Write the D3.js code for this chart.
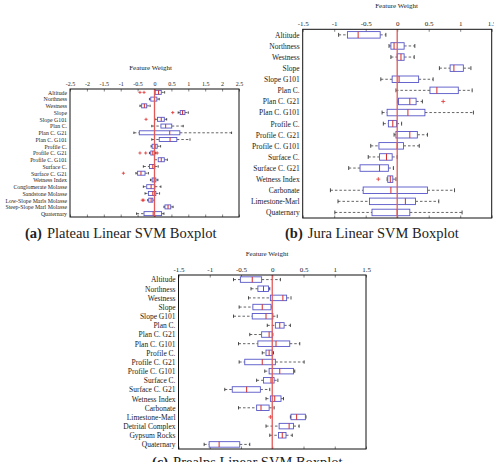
<!DOCTYPE html>
<html>
<head>
<meta charset="utf-8">
<script src="https://cdn.jsdelivr.net/npm/d3@7"></script>
<style>
  body { margin: 0; background: #fff; }
  svg { display: block; }
  svg text { font-family: "Liberation Serif", "DejaVu Serif", serif !important; fill: #222; }
</style>
</head>
<body>
<svg id="fig" width="494" height="462"></svg>
<script>
// ---- data ----
// stats per row: [lower whisker, q1, median, q3, upper whisker]
const ticksA = [-2.5, -2, -1.5, -1, -0.5, 0, 0.5, 1, 1.5, 2, 2.5];
const ticksBC = [-1.5, -1, -0.5, 0, 0.5, 1, 1.5];

const catsA = ["Altitude", "Northness", "Westness", "Slope", "Slope G101", "Plan C.", "Plan C. G21",
  "Plan C. G101", "Profile C.", "Profile C. G21", "Profile C. G101", "Surface C.", "Surface C. G21",
  "Wetness Index", "Conglomerate Molasse", "Sandstone Molasse", "Low-Slope Marls Molasse",
  "Steep-Slope Marl Molasse", "Quaternary"];
const statsA = [
  [0.0, 0.02, 0.12, 0.2, 0.3], [-0.15, -0.11, 0.0, 0.07, 0.14], [-0.43, -0.38, -0.3, -0.23, -0.13],
  [0.7, 0.76, 0.83, 0.9, 1.0], [0.01, 0.09, 0.2, 0.29, 0.36], [-0.08, 0.19, 0.33, 0.51, 0.85],
  [-0.61, -0.45, 0.45, 0.75, 2.28], [-0.08, 0.14, 0.46, 0.66, 1.05], [-0.1, -0.07, 0.02, 0.08, 0.18],
  [-0.15, -0.11, -0.05, 0.01, 0.04], [0.0, 0.11, 0.2, 0.29, 0.38], [-0.33, -0.15, -0.05, 0.01, 0.11],
  [-0.55, -0.5, -0.4, -0.28, -0.18], [-0.12, -0.07, -0.01, 0.04, 0.1], [-0.33, -0.23, -0.1, 0.01, 0.19],
  [-0.28, -0.18, -0.05, 0.04, 0.15], [-0.2, -0.17, -0.1, -0.05, 0.0], [0.28, 0.31, 0.4, 0.48, 0.55],
  [-0.53, -0.31, -0.04, 0.21, 0.28]
];
const outliersA = [["Altitude", -0.43], ["Altitude", -0.31], ["Slope", 0.54], ["Slope G101", -0.25],
  ["Profile C. G21", -0.43], ["Profile C. G21", -0.26], ["Profile C. G21", 0.08],
  ["Surface C. G21", -0.92], ["Low-Slope Marls Molasse", -0.36], ["Low-Slope Marls Molasse", -0.32]];

const catsB = ["Altitude", "Northness", "Westness", "Slope", "Slope G101", "Plan C.", "Plan C. G21",
  "Plan C. G101", "Profile C.", "Profile C. G21", "Profile C. G101", "Surface C.", "Surface C. G21",
  "Wetness Index", "Carbonate", "Limestone-Marl", "Quaternary"];
const statsB = [
  [-0.93, -0.79, -0.62, -0.27, -0.18], [-0.13, -0.1, -0.05, 0.11, 0.28], [-0.1, 0.0, 0.06, 0.11, 0.27],
  [0.67, 0.84, 0.9, 1.05, 1.17], [-0.26, -0.08, 0.03, 0.34, 0.57], [-0.02, 0.52, 0.63, 0.97, 1.19],
  [0.01, 0.02, 0.2, 0.3, 0.4], [-0.24, -0.16, 0.17, 0.44, 1.21], [-0.22, -0.14, -0.07, -0.01, 0.07],
  [-0.05, -0.02, 0.2, 0.32, 0.48], [-0.42, -0.29, 0.0, 0.1, 0.35], [-0.46, -0.28, -0.17, -0.08, 0.0],
  [-0.77, -0.59, -0.28, -0.14, -0.06], [-0.16, -0.15, -0.11, -0.07, -0.02], [-1.06, -0.54, -0.1, 0.48, 0.91],
  [-0.94, -0.44, 0.13, 0.29, 0.66], [-0.99, -0.4, 0.0, 0.2, 1.03]
];
const outliersB = [["Plan C. G21", 0.73], ["Wetness Index", -0.3]];

const catsC = ["Altitude", "Northness", "Westness", "Slope", "Slope G101", "Plan C.", "Plan C. G21",
  "Plan C. G101", "Profile C.", "Profile C. G21", "Profile C. G101", "Surface C.", "Surface C. G21",
  "Wetness Index", "Carbonate", "Limestone-Marl", "Detrital Complex", "Gypsum Rocks", "Quaternary"];
const statsC = [
  [-0.62, -0.51, -0.32, -0.17, 0.13], [-0.34, -0.23, -0.14, -0.06, -0.04], [-0.38, -0.03, 0.17, 0.23, 0.3],
  [-0.53, -0.31, -0.16, -0.02, -0.02], [-0.62, -0.32, -0.1, 0.01, 0.08], [-0.08, 0.05, 0.12, 0.19, 0.29],
  [-0.36, -0.17, -0.05, 0.0, 0.01], [-0.54, -0.23, 0.06, 0.28, 0.44], [-0.16, -0.1, -0.05, 0.0, 0.02],
  [-0.53, -0.44, -0.16, 0.05, 0.51], [-0.12, -0.05, 0.12, 0.34, 0.36], [-0.25, -0.14, -0.02, 0.03, 0.09],
  [-0.76, -0.64, -0.41, -0.19, -0.04], [-0.1, -0.03, 0.04, 0.14, 0.18], [-0.54, -0.25, -0.18, -0.05, 0.03],
  [0.29, 0.3, 0.39, 0.53, 0.54], [-0.1, 0.11, 0.27, 0.34, 0.43], [-0.04, 0.1, 0.16, 0.22, 0.32],
  [-1.09, -1.01, -0.85, -0.52, -0.36]
];
const outliersC = [["Limestone-Marl", -0.03]];

class BoxPlot {
  constructor(_config, _cats, _stats, _outliers, _ticks) {
    this.config = _config;
    this.cats = _cats;
    this.stats = _stats;
    this.outliers = _outliers;
    this.ticks = _ticks;
    this.initVis();
  }

  initVis() {
    let vis = this;
    const c = vis.config;

    vis.x = d3.scaleLinear()
        .domain([vis.ticks[0], vis.ticks[vis.ticks.length - 1]])
        .range([c.left, c.right]);

    vis.y = d3.scalePoint()
        .domain(vis.cats)
        .range([c.top, c.bottom])
        .padding(0.5);

    vis.g = d3.select('#fig').append('g');

    // Title above the axis
    vis.g.append('text')
        .attr('x', c.titleX)
        .attr('y', c.titleY)
        .attr('text-anchor', 'middle')
        .attr('dominant-baseline', 'middle')
        .style('font-size', '7px')
        .text('Feature Weight');

    // top axis with labels, ticks pointing in
    const xTop = d3.axisTop(vis.x).tickValues(vis.ticks).tickFormat(d => String(d))
        .tickSize(-2.5).tickPadding(3.5);
    const gTop = vis.g.append('g').attr('transform', `translate(0,${c.top})`).call(xTop);
    gTop.select('.domain').remove();
    gTop.selectAll('text').style('font-size', c.tickFont + 'px');
    gTop.selectAll('line').attr('stroke', '#333').attr('stroke-width', 0.6);

    const xBot = d3.axisBottom(vis.x).tickValues(vis.ticks).tickFormat('').tickSize(-2.5);
    const gBot = vis.g.append('g').attr('transform', `translate(0,${c.bottom})`).call(xBot);
    gBot.select('.domain').remove();
    gBot.selectAll('line').attr('stroke', '#333').attr('stroke-width', 0.6);

    const yAxis = d3.axisLeft(vis.y).tickSize(0).tickPadding(3);
    const gY = vis.g.append('g').attr('transform', `translate(${c.left},0)`).call(yAxis);
    gY.select('.domain').remove();
    gY.selectAll('text').style('font-size', c.catFont + 'px');

    vis.renderVis();

    // frame
    vis.g.append('rect')
        .attr('x', c.left).attr('y', c.top)
        .attr('width', c.right - c.left).attr('height', c.bottom - c.top)
        .attr('fill', 'none').attr('stroke', '#111').attr('stroke-width', 1);

    // caption
    const cap = vis.g.append('text')
        .attr('x', c.capX).attr('y', c.capY)
        .style('font-size', '14.5px');
    cap.append('tspan').attr('font-weight', 'bold').text(c.capTag);
    cap.append('tspan').attr('dx', 5).text(c.capText);
  }

  renderVis() {
    let vis = this;
    const c = vis.config;
    const h = c.boxH;

    const rows = vis.g.selectAll('.row')
        .data(vis.stats.map((s, i) => ({cat: vis.cats[i], s: s})))
        .join('g')
        .attr('class', 'row')
        .attr('transform', d => `translate(0,${vis.y(d.cat)})`);

    // whiskers
    rows.append('line')
        .attr('x1', d => vis.x(d.s[0])).attr('x2', d => vis.x(d.s[1]))
        .attr('stroke', '#222').attr('stroke-width', 0.7).attr('stroke-dasharray', '2.5,2');
    rows.append('line')
        .attr('x1', d => vis.x(d.s[3])).attr('x2', d => vis.x(d.s[4]))
        .attr('stroke', '#222').attr('stroke-width', 0.7).attr('stroke-dasharray', '2.5,2');
    // caps
    [0, 4].forEach(k => {
      rows.append('line')
          .attr('x1', d => vis.x(d.s[k])).attr('x2', d => vis.x(d.s[k]))
          .attr('y1', -h * 0.3).attr('y2', h * 0.3)
          .attr('stroke', '#222').attr('stroke-width', 0.8);
    });
    // box
    rows.append('rect')
        .attr('x', d => vis.x(d.s[1]))
        .attr('width', d => vis.x(d.s[3]) - vis.x(d.s[1]))
        .attr('y', -h / 2).attr('height', h)
        .attr('fill', '#fff').attr('stroke', '#5656c8').attr('stroke-width', 0.9);
    // median
    rows.append('line')
        .attr('x1', d => vis.x(d.s[2])).attr('x2', d => vis.x(d.s[2]))
        .attr('y1', -h / 2).attr('y2', h / 2)
        .attr('stroke', '#d92a2a').attr('stroke-width', 1);

    // zero line
    vis.g.append('line')
        .attr('x1', vis.x(0)).attr('x2', vis.x(0))
        .attr('y1', c.top).attr('y2', c.bottom)
        .attr('stroke', '#e25a58').attr('stroke-width', 1.3);

    // outliers (+)
    const pts = vis.g.selectAll('.out')
        .data(vis.outliers)
        .join('g')
        .attr('class', 'out')
        .attr('transform', d => `translate(${vis.x(d[1])},${vis.y(d[0])})`);
    const r = c.plus;
    pts.append('line').attr('x1', -r).attr('x2', r).attr('stroke', '#e03030').attr('stroke-width', 0.8);
    pts.append('line').attr('y1', -r).attr('y2', r).attr('stroke', '#e03030').attr('stroke-width', 0.8);
  }
}

new BoxPlot({left: 70, right: 239, top: 89, bottom: 217, boxH: 4, tickFont: 6, catFont: 5.8,
  titleX: 150.5, titleY: 68, plus: 1.6, capX: 25, capY: 237.5, capTag: '(a)', capText: 'Plateau Linear SVM Boxplot'},
  catsA, statsA, outliersA, ticksA);

new BoxPlot({left: 302.7, right: 491.7, top: 29.3, bottom: 218, boxH: 6.5, tickFont: 7, catFont: 7.5,
  titleX: 396.5, titleY: 6, plus: 2, capX: 285, capY: 237.5, capTag: '(b)', capText: 'Jura Linear SVM Boxplot'},
  catsB, statsB, outliersB, ticksBC);

new BoxPlot({left: 178.5, right: 366, top: 275, bottom: 449, boxH: 5.5, tickFont: 7, catFont: 7.5,
  titleX: 267, titleY: 254, plus: 2, capX: 152, capY: 467, capTag: '(c)', capText: 'Prealps Linear SVM Boxplot'},
  catsC, statsC, outliersC, ticksBC);
</script>
</body>
</html>
